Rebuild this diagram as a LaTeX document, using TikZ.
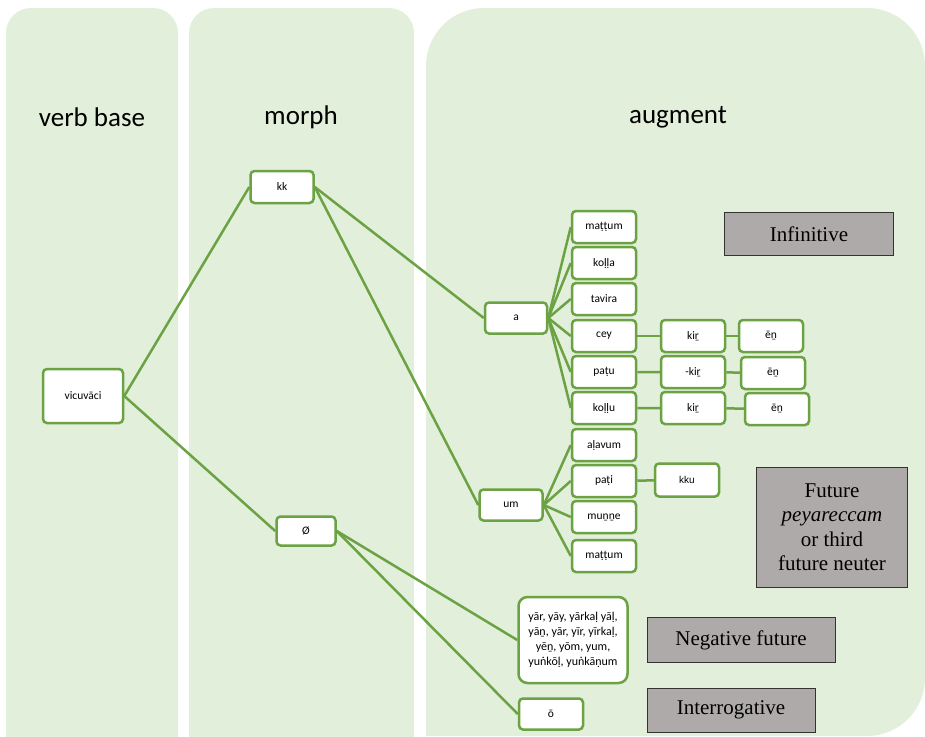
\documentclass[tikz,border=0pt]{standalone}
\usepackage{fontspec}
\setmainfont{Carlito}
\newfontfamily\tagfont{Liberation Serif}
\newfontfamily\arialfont{Liberation Sans}
\definecolor{PanelGreen}{HTML}{E2EFDA}
\definecolor{LineGreen}{HTML}{6BA243}
\definecolor{TagGray}{HTML}{AEAAAA}

\begin{document}
\begin{tikzpicture}[x=1pt, y=-1pt,
                morph/.style={draw=LineGreen, line width=2.5pt, fill=white,
                              rounded corners=4pt, minimum width=64pt,
                              minimum height=32pt, inner sep=2pt,
                              font=\fontsize{11.5}{13}\selectfont, align=center},
                link/.style={draw=LineGreen, line width=2.5pt},
                tag/.style={draw=black!80, line width=0.8pt, fill=TagGray,
                            inner sep=0pt, align=center,
                            font=\tagfont\fontsize{21}{24.5}\selectfont},
                head/.style={font=\fontsize{27}{30}\selectfont}]
                \useasboundingbox (0,0) rectangle (925,736);
                % column panels
                \fill[PanelGreen, rounded corners=25] (6,800) rectangle (178,8);
                \fill[PanelGreen, rounded corners=25] (189,800) rectangle (414,8);
                \fill[PanelGreen] (426,736) [rounded corners=58] -- (426,8) -- (925,8)
                    -- (925,736) -- (700,736) [sharp corners] -- (426,736) -- cycle;

                \node[head] (hbase)  at (92,117)  {verb base};
                \node[head] (hmorph) at (301,117) {morph};
                \node[head] (haug)   at (678,117) {augment};

                % stems and morphs
                \node[morph, minimum width=80pt, minimum height=54pt] (base) at (83,396) {vicuvāci};
                \node[morph, minimum width=63pt] (kk)   at (282,187) {kk};
                \node[morph, minimum width=59pt, minimum height=29pt] (null) at (306,531) {Ø};
                \node[morph, minimum width=62pt, minimum height=31pt] (a)  at (516,318) {a};
                \node[morph, minimum width=63pt, minimum height=31pt] (um) at (511,505) {um};

                % augments after a
                \node[morph] (mattumA) at (604,227) {maṭṭum};
                \node[morph] (kolla)   at (604,263) {koḷḷa};
                \node[morph] (tavira)  at (604,299) {tavira};
                \node[morph] (cey)     at (604,336) {cey};
                \node[morph] (patu)    at (604,372) {paṭu};
                \node[morph] (kollu)   at (604,408) {koḷḷu};
                \node[morph] (kirA)    at (693,336) {kiṟ};
                \node[morph] (kirB)    at (693,372) {-kiṟ};
                \node[morph] (kirC)    at (693,408) {kiṟ};
                \node[morph] (enA)     at (771,336) {ēṉ};
                \node[morph] (enB)     at (773,373) {ēṉ};
                \node[morph] (enC)     at (777,409) {ēṉ};

                % augments after um
                \node[morph] (alavum)  at (604,445) {aḷavum};
                \node[morph] (pati)    at (604,481) {paṭi};
                \node[morph] (munne)   at (604,517) {muṉṉe};
                \node[morph] (mattumB) at (604,556) {maṭṭum};
                \node[morph, font=\arialfont\fontsize{10}{12}\selectfont,
                      minimum height=33pt] (kku) at (687,480) {kku};

                % after the null morph
                \node[morph, rounded corners=9pt, minimum width=109pt,
                      minimum height=86pt, font=\fontsize{12}{15}\selectfont] (yar) at (573,640)
                    {yār, yāy, yārkaḷ yāḷ,\\ yāṉ, yār, yīr, yīrkaḷ,\\ yēṉ, yōm, yum,\\ yuṅkōḷ, yuṅkāṇum};
                \node[morph, minimum height=31pt] (oo) at (551,714) {ō};

                % tense labels
                \node[tag, minimum width=169pt, minimum height=43pt] (tinf) at (809,234) {Infinitive};
                \node[tag, minimum width=151pt, minimum height=120pt] (tfut) at (832,527)
                    {Future\\ \textit{peyareccam}\\ or third\\ future neuter};
                \node[tag, minimum width=188pt, minimum height=45pt] (tneg) at (741,640) {Negative future};
                \node[tag, minimum width=168pt, minimum height=44pt] (tint) at (731,710) {Interrogative};

                \draw[link] (base.east) -- (kk.west);
                \draw[link] (base.east) -- (null.west);
                \draw[link] (kk.east) -- (a.west);
                \draw[link] (kk.east) -- (um.west);
                \draw[link] (a.east) -- (mattumA.west);
                \draw[link] (a.east) -- (kolla.west);
                \draw[link] (a.east) -- (tavira.west);
                \draw[link] (a.east) -- (cey.west);
                \draw[link] (a.east) -- (patu.west);
                \draw[link] (a.east) -- (kollu.west);
                \draw[link] (cey) -- (kirA) -- (enA);
                \draw[link] (patu) -- (kirB) -- (enB);
                \draw[link] (kollu) -- (kirC) -- (enC);
                \draw[link] (um.east) -- (alavum.west);
                \draw[link] (um.east) -- (pati.west);
                \draw[link] (um.east) -- (munne.west);
                \draw[link] (um.east) -- (mattumB.west);
                \draw[link] (pati) -- (kku);
                \draw[link] (null.east) -- (yar.west);
                \draw[link] (null.east) -- (oo.west);
            \end{tikzpicture}
\end{document}
